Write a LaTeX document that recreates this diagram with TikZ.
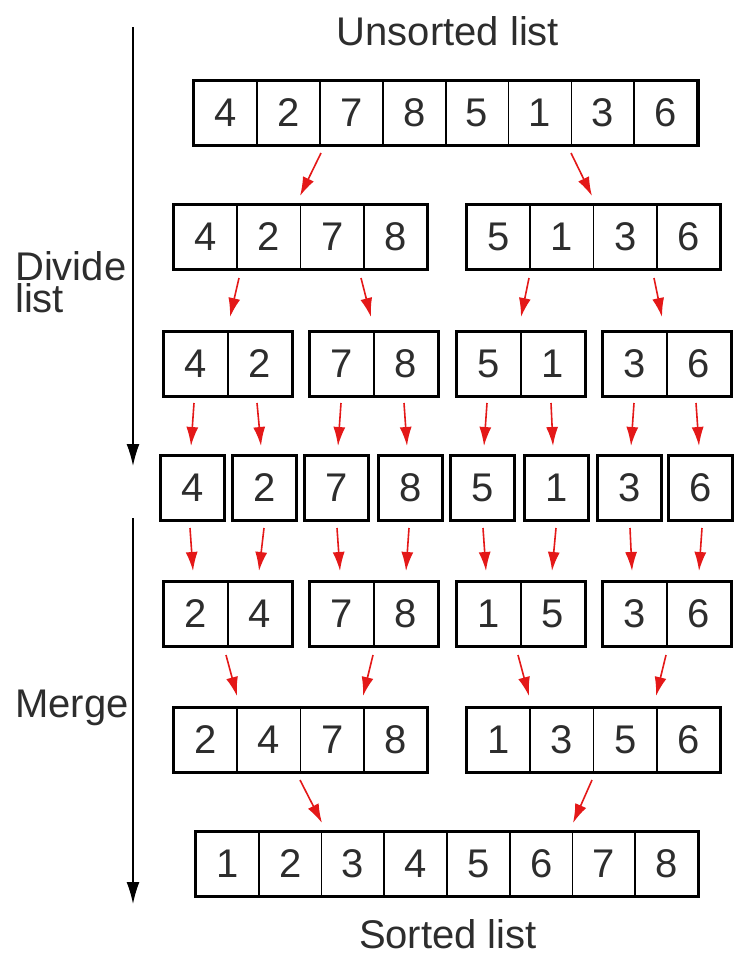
\documentclass[tikz,border=0pt]{standalone}
\usepackage{fontspec}
\setmainfont{Liberation Sans}
\usetikzlibrary{arrows.meta}
\definecolor{redarrow}{RGB}{228,24,24}
\definecolor{txt}{RGB}{45,45,45}
\newcommand\cellgroup[6]{%
  \foreach \v [count=\i] in {#5}
    \node[cell, minimum width=#3pt] (#1\i) at ({#2+#3*(\i-0.5)},#4) {\v};
  \draw[outer] (#11.north west) rectangle (#1#6.south east);
}
\begin{document}
\begin{tikzpicture}[x=1pt,y=-1pt,
  cell/.style={draw, line width=1.8pt, inner sep=0pt, minimum height=63pt,
    text=txt, font=\fontsize{40}{40}\selectfont},
  outer/.style={draw, line width=3pt},
  rarrow/.style={draw=redarrow, line width=1.6pt, -{Latex[length=19pt,width=12pt]}},
  barrow/.style={draw=black, line width=1.5pt, -{Latex[length=22pt,width=13pt]}},
  lbl/.style={text=txt, font=\fontsize{40}{40}\selectfont, inner sep=0pt}]
\useasboundingbox (0,0) rectangle (735,956);
\fill[white] (0,0) rectangle (735,956);

% titles and side labels
\node[lbl, anchor=base] (unsorted) at (448,45) {Unsorted list};
\node[lbl, anchor=base] (sorted) at (448,948) {Sorted list};
\node[lbl, anchor=north west, align=left, font=\fontsize{40}{32}\selectfont]
  (divide) at (15,251) {Divide\\list};
\node[lbl, anchor=base west] (merge) at (15,717) {Merge};

% side arrows
\coordinate (dtop) at (133,27);
\coordinate (dbot) at (133,466);
\coordinate (mtop) at (133,518);
\coordinate (mbot) at (133,904);
\draw[barrow] (dtop) -- (dbot);
\draw[barrow] (mtop) -- (mbot);

% row 1
\cellgroup{ra}{194}{62.9}{113}{4,2,7,8,5,1,3,6}{8}
% row 2
\cellgroup{rba}{174}{63.25}{237}{4,2,7,8}{4}
\cellgroup{rbb}{467}{63.25}{237}{5,1,3,6}{4}
% row 3
\cellgroup{rca}{164}{64}{364}{4,2}{2}
\cellgroup{rcb}{310}{64}{364}{7,8}{2}
\cellgroup{rcc}{457}{64}{364}{5,1}{2}
\cellgroup{rcd}{603}{64}{364}{3,6}{2}
% row 4
\cellgroup{rda}{161}{63}{488}{4}{1}
\cellgroup{rdb}{233}{63}{488}{2}{1}
\cellgroup{rdc}{305}{63}{488}{7}{1}
\cellgroup{rdd}{379}{63}{488}{8}{1}
\cellgroup{rde}{451}{63}{488}{5}{1}
\cellgroup{rdf}{525}{63}{488}{1}{1}
\cellgroup{rdg}{598}{63}{488}{3}{1}
\cellgroup{rdh}{669}{63}{488}{6}{1}
% row 5
\cellgroup{rea}{164}{64}{614}{2,4}{2}
\cellgroup{reb}{310}{64}{614}{7,8}{2}
\cellgroup{rec}{457}{64}{614}{1,5}{2}
\cellgroup{red}{603}{64}{614}{3,6}{2}
% row 6
\cellgroup{rfa}{174}{63.25}{740}{2,4,7,8}{4}
\cellgroup{rfb}{467}{63.25}{740}{1,3,5,6}{4}
% row 7
\cellgroup{rg}{196}{62.75}{864}{1,2,3,4,5,6,7,8}{8}

% red arrows
\foreach \xs/\ys/\xe/\ye [count=\k] in {
  321/153/300/196, 571/153/592/196,
  239/278/230/317, 361/278/371/317, 529/278/521/317, 654/278/662/317,
  194/403/191/446, 257/403/261/446, 341/403/338/446, 404/403/407/446,
  487/403/484/446, 551/403/553/446, 634/403/631/446, 696/403/699/446,
  190/528/193/571, 264/528/259/571, 337/528/340/571, 409/528/406/571,
  483/528/486/571, 556/528/552/571, 630/528/632/571, 702/528/699/571,
  226/655/237/696, 373/655/363/696, 518/655/529/696, 666/655/656/696,
  300/780/322/823, 592/780/573/823}
{
  \coordinate (s\k) at (\xs,\ys);
  \coordinate (e\k) at (\xe,\ye);
  \draw[rarrow] (s\k) -- (e\k);
}
\end{tikzpicture}
\end{document}
